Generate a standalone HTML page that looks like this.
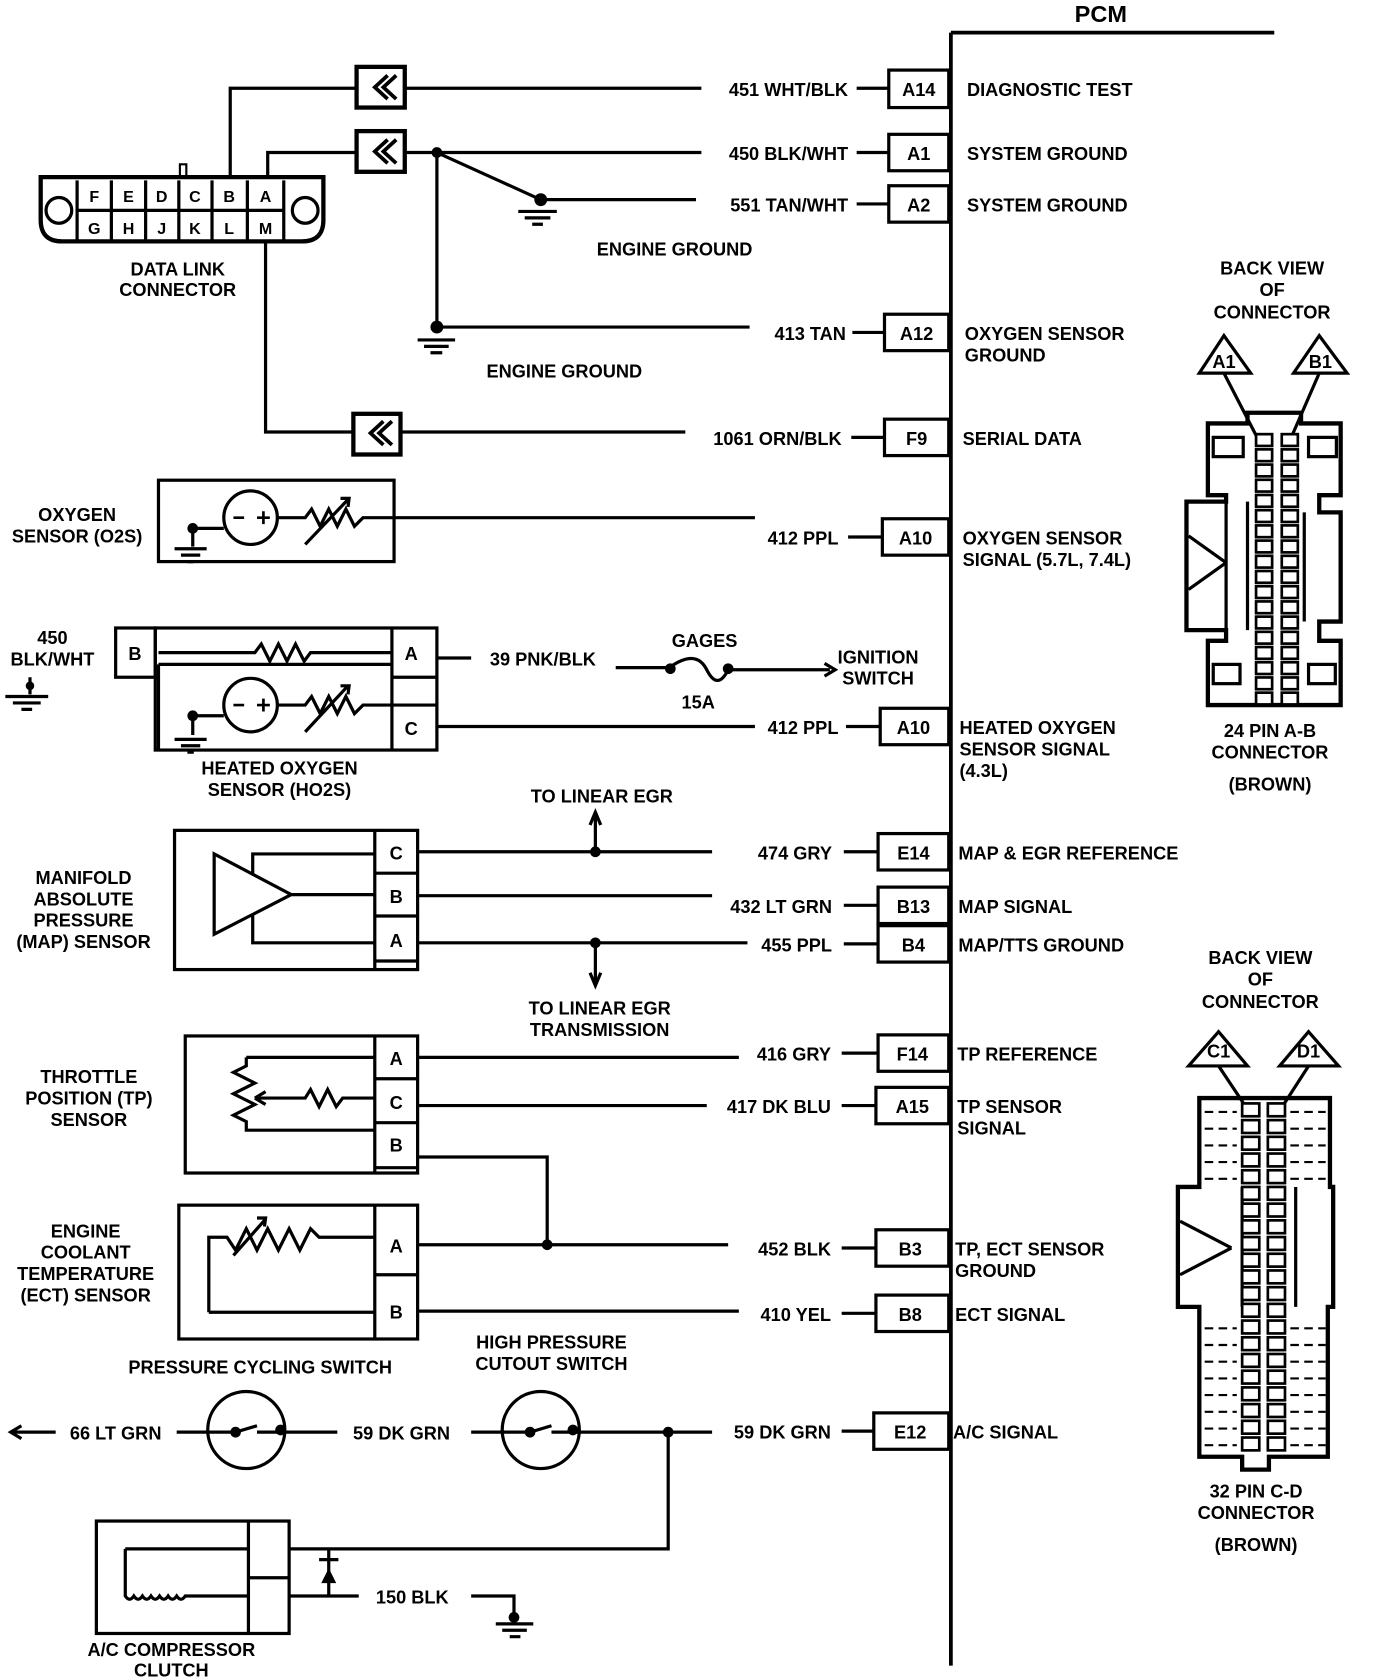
<!DOCTYPE html>
<html><head><meta charset="utf-8"><style>
html,body{margin:0;padding:0;background:#fff;}
svg{display:block;}
text{font-family:"Liberation Sans",sans-serif;font-weight:bold;font-size:17px;fill:#000;}
.r{text-anchor:end}.m{text-anchor:middle}
.p{font-size:15px;text-anchor:middle}
</style></head><body>
<svg id="s" width="1376" height="1680" viewBox="0 0 1285 1568" xmlns="http://www.w3.org/2000/svg">
<g stroke="#000" stroke-width="3" fill="none">
<path d="M888 30V1555 M888 30H1190" stroke-width="3.5"/>
<rect x="830" y="65" width="56" height="35"/><path d="M800 82H830"/>
<rect x="830" y="125" width="56" height="34"/><path d="M800 142H830"/>
<rect x="830" y="173" width="56" height="34"/><path d="M800 190H830"/>
<rect x="826" y="293" width="60" height="34"/><path d="M796 310H826"/>
<rect x="826" y="391" width="60" height="34"/><path d="M795 408H826"/>
<rect x="824" y="484" width="62" height="34"/><path d="M792 501H824"/>
<rect x="822" y="661" width="64" height="34"/><path d="M790 678H822"/>
<rect x="820" y="778" width="66" height="34"/><path d="M788 795H820"/>
<rect x="820" y="828" width="66" height="34"/><path d="M788 845H820"/>
<rect x="820" y="864" width="66" height="34"/><path d="M788 881H820"/>
<rect x="820" y="966" width="66" height="34"/><path d="M786 983H820"/>
<rect x="818" y="1015" width="68" height="34"/><path d="M786 1032H818"/>
<rect x="818" y="1148" width="68" height="34"/><path d="M786 1165H818"/>
<rect x="818" y="1209" width="68" height="34"/><path d="M786 1226H818"/>
<rect x="816" y="1319" width="70" height="34"/><path d="M786 1336H816"/>
<path d="M215 163V82H655 M250 163V142H655 M408 142L505 186H650 M408 142V305H700 M248 225V403H640"/>
<rect x="333" y="62" width="45" height="38" fill="#fff" stroke-width="4"/>
<rect x="333" y="122" width="45" height="38" fill="#fff" stroke-width="4"/>
<rect x="330" y="386" width="44" height="38" fill="#fff" stroke-width="4"/>
<path d="M362 70l-12 11 12 11 M370 70l-12 11 12 11 M362 130l-12 11 12 11 M370 130l-12 11 12 11 M358 393l-12 11 12 11 M366 393l-12 11 12 11" stroke-width="3.5"/>
<path d="M38 165H302V205Q302 225 282 225H58Q38 225 38 205Z" stroke-width="4"/>
<path d="M72 168V225 M72 196H265 M265 168V225" />
<path d="M104 168V225 M136 168V225 M167 168V225 M198 168V225 M231 168V225"/>
<circle cx="55" cy="196" r="12"/><circle cx="285" cy="196" r="12"/>
<path d="M168 163V153H174V163" stroke-width="2"/>
<path d="M484 197H520 M490 203H514 M497 209H507 M390 317H425 M396 323H419 M402 329H413 M163 512H193 M169 518H187 M175 524H181 M163 690H193 M169 696H187 M175 702H181 M5 650H45 M12 656H38 M20 662H30 M463 1516H498 M469 1522H492 M476 1528H486"/>
<rect x="148" y="448" width="220" height="76"/>
<circle cx="234" cy="483" r="25"/>
<path d="M180 493V510 M180 493H209 M259 483H285l6 -8 8 16 8 -16 8 16 8 -16 8 16 8 -8H705 M285 508L325 466 M318 465l8 0 -1 8"/>
<path d="M218 483h10 M240 483h12 M246 477v12" stroke-width="2.5"/>
<rect x="108" y="586" width="37" height="46"/>
<rect x="145" y="586" width="263" height="114"/>
<path d="M366 586V700 M366 632H408 M366 658H408 M148 620H366 M148 620V700 M148 609H238l6 -8 8 16 8 -16 8 16 8 -16 8 16 6 -8H366"/>
<circle cx="234" cy="658" r="25"/>
<path d="M180 668V686 M180 668H209 M259 658H285l6 -8 8 16 8 -16 8 16 8 -16 8 16 8 -8H366 M285 683L325 640 M318 640l8 0 -1 8"/>
<path d="M218 658h10 M240 658h12 M246 652v12" stroke-width="2.5"/>
<path d="M408 614H440 M575 623H625 Q650 605 660 625 T680 625H775 M408 678H705 M28 632V648"/>
<path d="M770 619l10 6 -10 6"/>
<rect x="163" y="775" width="227" height="130"/>
<path d="M350 775V905 M350 815H390 M350 855H390 M350 897H390 M200 797V872L272 835Z M236 817V797H350 M272 835H350 M236 853V880H350"/>
<path d="M390 795H665 M390 836H665 M390 880H698 M556 795V760 M556 880V918 M551 770l5 -12 5 12 M551 908l5 12 5 -12"/>
<rect x="173" y="967" width="217" height="128"/>
<path d="M350 967V1095 M350 1007H390 M350 1048H390 M350 1090H390 M230 987H350 M230 987v8 l-12 6 20 10 -20 10 20 10 -20 10 12 6 v8H350 M238 1025H285l5 -8 8 16 8 -16 8 16 6 -8H350 M238 1025l10 -6 M238 1025l10 6"/>
<path d="M390 987H690 M390 1032H660 M390 1080H511V1162"/>
<rect x="167" y="1125" width="223" height="125"/>
<path d="M350 1125V1250 M350 1190H390 M195 1225V1155H212l8 12 10 -20 10 20 10 -20 10 20 10 -20 10 20 10 -20 8 8H350 M195 1225H350 M218 1172L248 1138 M240 1137l8 0 -1 8"/>
<path d="M390 1162H680 M390 1224H690"/>
<circle cx="230" cy="1335" r="36"/><circle cx="505" cy="1335" r="36"/>
<path d="M10 1337H52 M20 1331l-10 6 10 6 M165 1337H220l20 -6 M240 1337H315 M440 1337H495l20 -6 M515 1337H665 M624 1337V1446H270 M270 1490H335 M440 1490H480V1508"/>
<rect x="90" y="1420" width="180" height="105"/>
<path d="M232 1420V1525 M232 1473H270 M117 1446H232 M117 1446V1490 q4 6 8 0 q4 6 8 0 q4 6 8 0 q4 6 8 0 q4 6 8 0 q4 6 8 0 q4 6 8 0 H232"/>
<path d="M307 1446V1490 M298 1456H316"/>
</g>
<g fill="#000">
<circle cx="408" cy="142" r="5"/><circle cx="505" cy="186" r="6"/><circle cx="408" cy="305" r="6"/>
<circle cx="180" cy="493" r="5"/><circle cx="180" cy="668" r="5"/><circle cx="28" cy="640" r="4"/>
<circle cx="626" cy="624" r="5"/><circle cx="680" cy="624" r="5"/>
<circle cx="556" cy="795" r="5"/><circle cx="556" cy="880" r="5"/><circle cx="511" cy="1162" r="5"/>
<circle cx="220" cy="1337" r="5"/><circle cx="262" cy="1335" r="5"/><circle cx="495" cy="1337" r="5"/><circle cx="535" cy="1335" r="5"/><circle cx="624" cy="1337" r="5"/><circle cx="480" cy="1510" r="5"/>
<path d="M300 1478L307 1464 314 1478Z"/>
</g>
<g stroke="#000" stroke-width="3" fill="none">
<path d="M1120 348L1143 313 1168 348Z M1208 348L1232 313 1258 348Z M1143 348L1175 410 M1232 348L1205 410"/>
<path d="M1128 395H1165V385H1215V395H1252V462H1232V478H1252V580H1232V598H1252V658H1128V598H1145V588H1108V468H1145V462H1128Z" stroke-width="4"/>
<rect x="1133" y="408" width="28" height="18"/><rect x="1222" y="408" width="26" height="18"/>
<rect x="1133" y="620" width="25" height="18"/><rect x="1222" y="620" width="25" height="18"/>
<path d="M1218 478V580 M1165 468V588 M1145 468V588 M1110 500L1145 525 M1110 550L1145 525"/>
<path d="M1110 995L1138 963 1165 995Z M1195 995L1222 963 1250 995Z M1138 995L1168 1040 M1222 995L1193 1040"/>
<path d="M1120 1025H1242V1108H1245V1220H1240V1360H1185V1372H1160V1360H1120V1220H1100V1108H1120Z" stroke-width="4"/>
<path d="M1160 1108V1220 M1210 1108V1220 M1102 1140L1150 1165 M1102 1190L1150 1165"/>
</g>
<g id="pins" stroke="#000" stroke-width="2.5" fill="#fff"></g>
<g>
<text x="88" y="188" class="p">F</text><text x="120" y="188" class="p">E</text><text x="151" y="188" class="p">D</text><text x="182" y="188" class="p">C</text><text x="214" y="188" class="p">B</text><text x="248" y="188" class="p">A</text>
<text x="88" y="218" class="p">G</text><text x="120" y="218" class="p">H</text><text x="151" y="218" class="p">J</text><text x="182" y="218" class="p">K</text><text x="214" y="218" class="p">L</text><text x="248" y="218" class="p">M</text>
<text x="166" y="257" class="m">DATA LINK</text><text x="166" y="276" class="m">CONNECTOR</text>
<text x="1028" y="20" class="m" style="font-size:22px">PCM</text>
<text x="792" y="89" class="r">451 WHT/BLK</text><text x="858" y="89" class="m">A14</text><text x="903" y="89">DIAGNOSTIC TEST</text>
<text x="792" y="149" class="r">450 BLK/WHT</text><text x="858" y="149" class="m">A1</text><text x="903" y="149">SYSTEM GROUND</text>
<text x="792" y="197" class="r">551 TAN/WHT</text><text x="858" y="197" class="m">A2</text><text x="903" y="197">SYSTEM GROUND</text>
<text x="630" y="238" class="m">ENGINE GROUND</text>
<text x="790" y="317" class="r">413 TAN</text><text x="856" y="317" class="m">A12</text><text x="901" y="317">OXYGEN SENSOR</text><text x="901" y="337">GROUND</text>
<text x="527" y="352" class="m">ENGINE GROUND</text>
<text x="786" y="415" class="r">1061 ORN/BLK</text><text x="856" y="415" class="m">F9</text><text x="899" y="415">SERIAL DATA</text>
<text x="783" y="508" class="r">412 PPL</text><text x="855" y="508" class="m">A10</text><text x="899" y="508">OXYGEN SENSOR</text><text x="899" y="528">SIGNAL (5.7L, 7.4L)</text>
<text x="72" y="486" class="m">OXYGEN</text><text x="72" y="506" class="m">SENSOR (O2S)</text>
<text x="49" y="601" class="m">450</text><text x="49" y="621" class="m">BLK/WHT</text>
<text x="126" y="616" class="m">B</text><text x="384" y="616" class="m">A</text><text x="384" y="686" class="m">C</text>
<text x="507" y="621" class="m">39 PNK/BLK</text>
<text x="658" y="604" class="m">GAGES</text><text x="652" y="661" class="m">15A</text>
<text x="820" y="619" class="m">IGNITION</text><text x="820" y="639" class="m">SWITCH</text>
<text x="783" y="685" class="r">412 PPL</text><text x="853" y="685" class="m">A10</text><text x="896" y="685">HEATED OXYGEN</text><text x="896" y="705">SENSOR SIGNAL</text><text x="896" y="725">(4.3L)</text>
<text x="261" y="723" class="m">HEATED OXYGEN</text><text x="261" y="743" class="m">SENSOR (HO2S)</text>
<text x="562" y="749" class="m">TO LINEAR EGR</text>
<text x="370" y="802" class="m">C</text><text x="370" y="843" class="m">B</text><text x="370" y="884" class="m">A</text>
<text x="78" y="825" class="m">MANIFOLD</text><text x="78" y="845" class="m">ABSOLUTE</text><text x="78" y="865" class="m">PRESSURE</text><text x="78" y="885" class="m">(MAP) SENSOR</text>
<text x="777" y="802" class="r">474 GRY</text><text x="853" y="802" class="m">E14</text><text x="895" y="802">MAP &amp; EGR REFERENCE</text>
<text x="777" y="852" class="r">432 LT GRN</text><text x="853" y="852" class="m">B13</text><text x="895" y="852">MAP SIGNAL</text>
<text x="777" y="888" class="r">455 PPL</text><text x="853" y="888" class="m">B4</text><text x="895" y="888">MAP/TTS GROUND</text>
<text x="560" y="947" class="m">TO LINEAR EGR</text><text x="560" y="967" class="m">TRANSMISSION</text>
<text x="370" y="994" class="m">A</text><text x="370" y="1035" class="m">C</text><text x="370" y="1075" class="m">B</text>
<text x="83" y="1011" class="m">THROTTLE</text><text x="83" y="1031" class="m">POSITION (TP)</text><text x="83" y="1051" class="m">SENSOR</text>
<text x="776" y="990" class="r">416 GRY</text><text x="852" y="990" class="m">F14</text><text x="894" y="990">TP REFERENCE</text>
<text x="776" y="1039" class="r">417 DK BLU</text><text x="852" y="1039" class="m">A15</text><text x="894" y="1039">TP SENSOR</text><text x="894" y="1059">SIGNAL</text>
<text x="370" y="1169" class="m">A</text><text x="370" y="1231" class="m">B</text>
<text x="80" y="1155" class="m">ENGINE</text><text x="80" y="1175" class="m">COOLANT</text><text x="80" y="1195" class="m">TEMPERATURE</text><text x="80" y="1215" class="m">(ECT) SENSOR</text>
<text x="776" y="1172" class="r">452  BLK</text><text x="850" y="1172" class="m">B3</text><text x="892" y="1172">TP, ECT SENSOR</text><text x="892" y="1192">GROUND</text>
<text x="776" y="1233" class="r">410  YEL</text><text x="850" y="1233" class="m">B8</text><text x="892" y="1233">ECT SIGNAL</text>
<text x="243" y="1282" class="m">PRESSURE CYCLING SWITCH</text>
<text x="515" y="1259" class="m">HIGH PRESSURE</text><text x="515" y="1279" class="m">CUTOUT SWITCH</text>
<text x="108" y="1344" class="m">66 LT GRN</text><text x="375" y="1344" class="m">59 DK GRN</text>
<text x="776" y="1343" class="r">59 DK GRN</text><text x="850" y="1343" class="m">E12</text><text x="890" y="1343">A/C SIGNAL</text>
<text x="385" y="1497" class="m">150 BLK</text>
<text x="160" y="1546" class="m">A/C COMPRESSOR</text><text x="160" y="1565" class="m">CLUTCH</text>
<text x="1188" y="256" class="m">BACK VIEW</text><text x="1188" y="276" class="m">OF</text><text x="1188" y="297" class="m">CONNECTOR</text>
<text x="1143" y="343" class="m">A1</text><text x="1233" y="343" class="m">B1</text>
<text x="1186" y="688" class="m">24 PIN A-B</text><text x="1186" y="708" class="m">CONNECTOR</text><text x="1186" y="738" class="m">(BROWN)</text>
<text x="1177" y="900" class="m">BACK VIEW</text><text x="1177" y="920" class="m">OF</text><text x="1177" y="941" class="m">CONNECTOR</text>
<text x="1138" y="987" class="m">C1</text><text x="1222" y="987" class="m">D1</text>
<text x="1173" y="1398" class="m">32 PIN C-D</text><text x="1173" y="1418" class="m">CONNECTOR</text><text x="1173" y="1448" class="m">(BROWN)</text>
</g>
</svg>
<script>
var g=document.getElementById('pins'),ns='http://www.w3.org/2000/svg';
function r(x,y,w,h){var e=document.createElementNS(ns,'rect');e.setAttribute('x',x);e.setAttribute('y',y);e.setAttribute('width',w);e.setAttribute('height',h);g.appendChild(e);}
for(var i=0;i<18;i++){r(1173,405+i*14.2,15,11);r(1197,405+i*14.2,15,11);}
for(var i=0;i<21;i++){r(1160,1030+i*15.6,16,12);r(1184,1030+i*15.6,16,12);}
var d='';for(var i=0;i<5;i++){var y=1038+i*15.6;d+='M1125 '+y+'H1155 M1205 '+y+'H1238 ';}
for(var i=0;i<8;i++){var y=1240+i*15.6;d+='M1125 '+y+'H1155 M1205 '+y+'H1238 ';}
var p=document.createElementNS(ns,'path');p.setAttribute('d',d);p.setAttribute('stroke','#000');p.setAttribute('stroke-width','2');p.setAttribute('stroke-dasharray','8 5');p.setAttribute('fill','none');g.appendChild(p);
</script>
</body></html>
